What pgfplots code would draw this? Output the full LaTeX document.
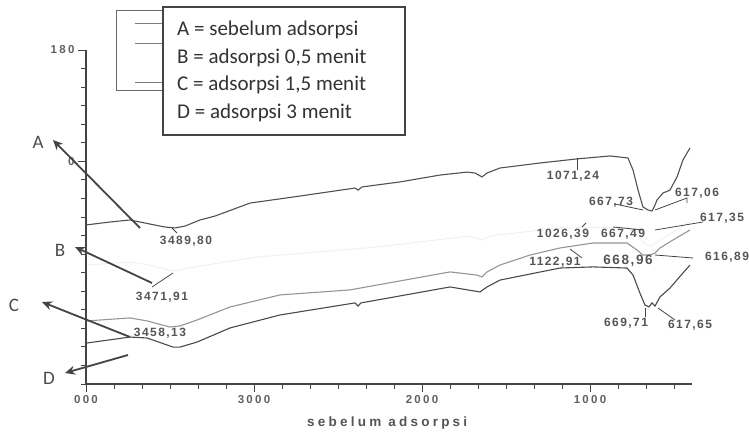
\documentclass[border=0pt]{standalone}
\usepackage{fontspec}
\setmainfont{Liberation Sans}
\newfontfamily\tickfont[LetterSpace=20]{Liberation Sans Bold}
\newfontfamily\annfont[LetterSpace=12]{Liberation Sans Bold}
\newfontfamily\xlabfont[LetterSpace=24]{Liberation Sans Bold}
\newfontfamily\legfont{Carlito}
\usepackage{pgfplots}
\pgfplotsset{compat=1.18}
\usetikzlibrary{arrows.meta}
\definecolor{ink}{HTML}{444444}
\definecolor{curveA}{HTML}{505050}
\definecolor{curveB}{HTML}{EFEFEF}
\definecolor{curveC}{HTML}{959595}
\definecolor{curveD}{HTML}{4A4A4A}
\definecolor{anntext}{HTML}{555555}
\definecolor{ticktext}{HTML}{606060}
\begin{document}
\begin{tikzpicture}
\useasboundingbox (0pt,0pt) rectangle (749pt,435pt);
\begin{axis}[
  at={(86pt,51pt)}, anchor=south west,
  scale only axis, width=606pt, height=334pt,
  xmin=393, xmax=4000, x dir=reverse,
  ymin=0, ymax=18,
  axis x line*=bottom, axis y line*=left,
  axis line style={ink, line width=1.1pt},
  clip=false,
  xtick={4000,3000,2000,1000},
  xticklabels={000,3000,2000,1000},
  minor xtick={3833.33,3666.67,3500,3333.33,3166.67,2833.33,2666.67,2500,2333.33,2166.67,1833.33,1666.67,1500,1333.33,1166.67,833.33,666.67,500},
  ytick={18,12},
  yticklabels={180,0},
  minor ytick={0,1,2,3,4,5,6,7,8,9,10,11,13,14,15,16,17},
  tick align=outside,
  tick style={ink, line width=0.9pt},
  major tick length=8pt,
  minor tick length=5pt,
  ticklabel style={font=\tickfont\fontsize{11.5}{13}\selectfont, text=ticktext},
  xlabel={\xlabfont\fontsize{13.5}{15}\selectfont sebelum adsorpsi},
  xlabel style={at={(axis description cs:0.497,0)}, anchor=base, yshift=-43pt, text=anntext},
]
% A = sebelum adsorpsi
\addplot[curveA, line width=1.1pt] coordinates {
(4000,8.57) (3857,8.73) (3738,8.84) (3619,8.62) (3530,8.46) (3470,8.41)
(3411,8.51) (3321,8.84) (3232,9.05) (3024,9.75) (2726,10.13) (2399,10.56)
(2381,10.45) (2357,10.62) (2131,10.89) (1893,11.26) (1732,11.42) (1685,11.37)
(1643,11.16) (1613,11.37) (1536,11.64) (1298,11.91) (1078,12.13) (881,12.29)
(774,12.18) (744,11.53) (714,10.45) (685,9.54) (655,9.38) (631,9.32)
(613,9.65) (601,9.92) (566,10.29) (524,10.45) (482,11.16) (447,12.07) (405,12.72)
};
% B = adsorpsi 0,5 menit (faded in the scan)
\addplot[curveB, line width=0.9pt] coordinates {
(3994,6.41) (3738,6.57) (3619,6.41) (3482,6.09) (3321,6.36) (2982,6.84)
(2268,7.38) (1714,7.98) (1643,7.76) (1595,7.98) (1179,8.41) (780,8.46)
(720,8.03) (673,7.54) (631,7.44) (584,7.76) (506,8.19) (405,8.73)
};
% C = adsorpsi 1,5 menit
\addplot[curveC, line width=1.1pt] coordinates {
(3994,3.40) (3738,3.56) (3637,3.40) (3500,3.07) (3440,3.13) (3339,3.45)
(3143,4.15) (2845,4.80) (2429,5.07) (1833,6.04) (1673,5.87) (1643,5.77)
(1613,6.04) (1536,6.41) (1357,6.95) (1179,7.33) (982,7.60) (780,7.60)
(720,7.22) (685,6.95) (643,6.95) (613,7.06) (584,7.33) (506,7.76) (405,8.30)
};
% D = adsorpsi 3 menit
\addplot[curveD, line width=1.1pt] coordinates {
(3994,2.21) (3738,2.53) (3637,2.48) (3482,1.99) (3440,1.99) (3339,2.26)
(3143,3.02) (2845,3.72) (2399,4.37) (2381,4.20) (2363,4.37) (1833,5.23)
(1655,4.96) (1613,5.23) (1536,5.60) (1179,6.25) (982,6.31) (780,6.25)
(744,5.87) (703,4.90) (673,4.26) (649,4.15) (631,4.37) (613,4.20)
(584,4.69) (524,5.17) (447,5.98) (405,6.41)
};
\end{axis}

% legend boxes
\draw[ink!80, line width=0.7pt] (116pt,345pt) rectangle (300pt,425pt);
\draw[ink!70, line width=0.6pt] (135pt,412pt) -- (163pt,412pt);
\draw[ink!70, line width=0.6pt] (135pt,392pt) -- (163pt,392pt);
\draw[ink!70, line width=0.6pt] (135pt,353pt) -- (163pt,353pt);
\draw[ink, line width=1.3pt, fill=white] (163pt,300pt) rectangle (405pt,428pt);
\begin{scope}[every node/.style={anchor=base west, inner sep=0pt, text=black!80, font=\legfont\fontsize{21}{24}\selectfont}]
\node at (177pt,399pt) {A = sebelum adsorpsi};
\node at (177pt,371.5pt) {B = adsorpsi 0,5 menit};
\node at (177pt,344pt) {C = adsorpsi 1,5 menit};
\node at (177pt,316.5pt) {D = adsorpsi 3 menit};
\end{scope}

% curve letters and arrows
\begin{scope}[every node/.style={text=black!70, font=\legfont\fontsize{19}{22}\selectfont, inner sep=0pt}]
\node at (38pt,293pt) {A};
\node at (60pt,185pt) {B};
\node at (14pt,130pt) {C};
\node at (49pt,57pt) {D};
\end{scope}
\begin{scope}[ink, line width=1.8pt, -{Stealth[length=10pt,width=9pt]}]
\draw (140pt,207pt) -- (53pt,295pt);
\draw (152pt,152pt) -- (75pt,188pt);
\draw (130pt,98pt) -- (42pt,133pt);
\draw (128pt,80pt) -- (65pt,62pt);
\end{scope}

% peak annotations
\begin{scope}[every node/.style={text=anntext, font=\annfont\fontsize{12}{14}\selectfont, inner sep=0pt}]
\node at (186pt,194pt) {3489,80};
\node at (162pt,138pt) {3471,91};
\node at (160pt,102pt) {3458,13};
\node at (573pt,259pt) {1071,24};
\node at (611pt,233pt) {667,73};
\node at (697pt,242pt) {617,06};
\node at (563pt,201pt) {1026,39};
\node at (623pt,201pt) {667,49};
\node at (722pt,217pt) {617,35};
\node at (555pt,173pt) {1122,91};
\node[font=\annfont\fontsize{13.5}{15}\selectfont] at (628pt,174pt) {668,96};
\node at (727pt,178pt) {616,89};
\node at (626pt,112pt) {669,71};
\node at (690pt,110pt) {617,65};
\end{scope}
\begin{scope}[ink, line width=0.8pt]
\draw (172pt,207pt) -- (177pt,202pt);
\draw (152pt,148pt) -- (173pt,162pt);
\draw (577pt,277pt) -- (577pt,265pt);
\draw (615pt,231pt) -- (643pt,225pt);
\draw (655pt,225pt) -- (687pt,237pt) -- (687pt,232pt);
\draw (613pt,208pt) -- (643pt,205pt);
\draw (655pt,205pt) -- (703pt,213pt);
\draw (582pt,208pt) -- (586pt,212pt);
\draw (570pt,186pt) -- (582pt,177pt);
\draw (655pt,180pt) -- (693pt,177pt);
\draw (645pt,127pt) -- (645pt,118pt);
\draw (658pt,127pt) -- (675pt,115pt);
\end{scope}
\end{tikzpicture}
\end{document}
